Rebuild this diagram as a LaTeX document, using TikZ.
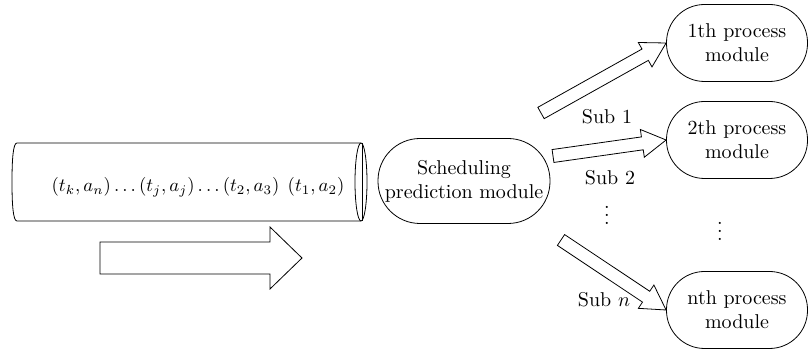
\documentclass[tikz,border=0pt]{standalone}
\usetikzlibrary{calc}

% hollow block arrow: tail, tip, shaft half width, head half width, head length
\newcommand\hollowarrow[5]{%
  \coordinate (hb) at ($(#2)!#5!(#1)$);
  \draw[fill=white] ($(#1)!#3!90:(#2)$) -- ($(hb)!#3!90:(#2)$) -- ($(hb)!#4!90:(#2)$)
    -- (#2) -- ($(hb)!#4!-90:(#2)$) -- ($(hb)!#3!-90:(#2)$) -- ($(#1)!#3!-90:(#2)$) -- cycle;
}

\tikzset{
  module/.style={draw, rounded corners=19pt, minimum width=70.5pt, minimum height=38.5pt,
    inner sep=0pt, align=center},
  sched/.style={draw, rounded corners=21pt, minimum width=86pt, minimum height=42.5pt,
    inner sep=0pt, align=center},
}

\begin{document}
\begin{tikzpicture}[x=0.5pt, y=-0.5pt]
\useasboundingbox (0,0) rectangle (809,351);

% queue
\draw (361,143) -- (17,143) .. controls (13,143) and (12,160) .. (12,182)
  .. controls (12,204) and (13,221) .. (17,221) -- (361,221);
\draw (361,182) ellipse (6 and 39);
\draw (362,143) -- (362,221);
\node[scale=0.94] (queue) at (198,187) {$(t_k, a_n) \ldots (t_j, a_j) \ldots (t_2, a_3)\;\,(t_1, a_2)$};

% direction
\coordinate (flowtail) at (100,258);
\coordinate (flowtip) at (302,258);
\hollowarrow{flowtail}{flowtip}{8pt}{15.5pt}{16pt}

% modules
\node[sched] (sched) at (464,181) {Scheduling\\prediction module};
\node[module] (mod1) at (737,43) {1th process\\module};
\node[module] (mod2) at (737,140) {2th process\\module};
\node[module] (modn) at (737,310) {nth process\\module};

% sub tasks
\coordinate (tail1) at (541,113);
\coordinate (tail2) at (553,156);
\coordinate (tailn) at (561,240);
\hollowarrow{tail1}{mod1.west}{3.25pt}{7pt}{12pt}
\hollowarrow{tail2}{mod2.west}{3.25pt}{7pt}{12pt}
\hollowarrow{tailn}{modn.west}{3.25pt}{7pt}{12pt}

\node (sub1) at (607,117) {Sub 1};
\node (sub2) at (610,178) {Sub 2};
\node (subdots) at (607,209) {$\vdots$};
\node (moddots) at (720,225) {$\vdots$};
\node (subn) at (604,300) {Sub $n$};
\end{tikzpicture}
\end{document}
